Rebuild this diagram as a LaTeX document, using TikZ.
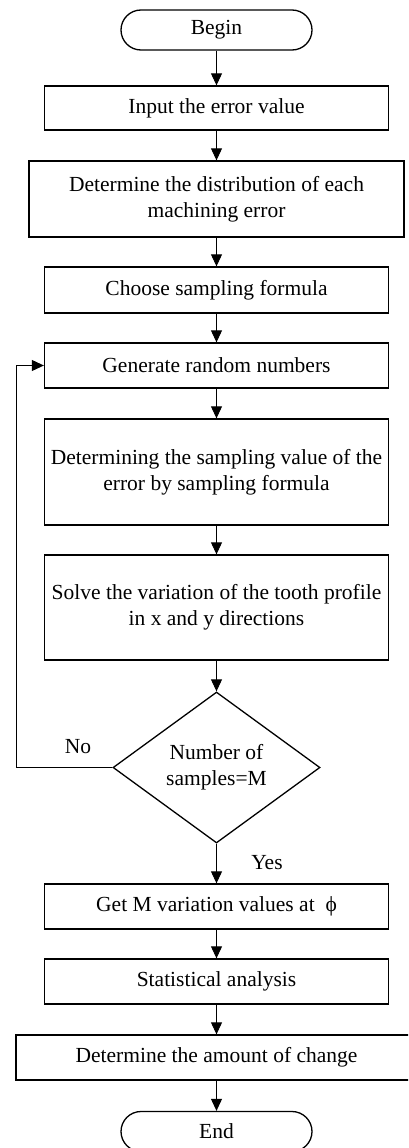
\documentclass[tikz,border=0pt]{standalone}
\usepackage{fontspec}
\setmainfont{Liberation Serif}
\usetikzlibrary{arrows.meta,shapes.geometric}
\tikzset{
  txt/.style={font=\fontsize{21.5}{26}\selectfont},
  box/.style={draw, line width=1.3pt, minimum width=344pt, inner sep=0pt, align=center, txt},
  term/.style={draw, line width=1.3pt, rounded corners=20pt, minimum width=191pt, minimum height=40pt, inner sep=0pt, txt},
  dec/.style={draw, line width=1.3pt, diamond, minimum width=207pt, minimum height=151pt, inner sep=0pt, align=center, txt},
  conn/.style={line width=0.9pt, -{Triangle[length=12pt,width=11pt]}},
  lbl/.style={txt}
}
\begin{document}
\begin{tikzpicture}[x=1pt,y=-1pt]
\useasboundingbox (0,0) rectangle (408,1148);
\clip (0,0) rectangle (408,1148);
\node[term] (begin) at (216.5,30) {Begin};
\node[box, minimum height=44pt] (input) at (216.5,108) {Input the error value};
\node[box, minimum width=375pt, minimum height=76pt] (distr) at (216.5,199) {Determine the distribution of each\\machining error};
\node[box, minimum height=46pt] (choose) at (216.5,290) {Choose sampling formula};
\node[box, minimum height=45pt] (gen) at (216.5,365.5) {Generate random numbers};
\node[box, minimum height=106pt] (det) at (216.5,472) {Determining the sampling value of the\\error by sampling formula};
\node[box, minimum height=105pt] (solve) at (216.5,607.5) {Solve the variation of the tooth profile\\in x and y directions};
\node[dec] (num) at (216.5,767.5) {Number of\\samples=M};
\node[box, minimum height=45pt] (getm) at (216.5,906.5) {Get M variation values at~~ϕ};
\node[box, minimum height=45pt] (stat) at (216.5,981.5) {Statistical analysis};
\node[box, minimum width=401pt, minimum height=45pt] (amount) at (216.5,1057.5) {Determine the amount of change};
\node[term] (end) at (216.5,1131.5) {End};
\coordinate (loopb) at (16,767.5);
\coordinate (loopt) at (16,365.5);
\draw[conn] (begin) -- (input);
\draw[conn] (input) -- (distr);
\draw[conn] (distr) -- (choose);
\draw[conn] (choose) -- (gen);
\draw[conn] (gen) -- (det);
\draw[conn] (det) -- (solve);
\draw[conn] (solve) -- (num);
\draw[conn] (num) -- (getm);
\draw[conn] (getm) -- (stat);
\draw[conn] (stat) -- (amount);
\draw[conn] (amount) -- (end);
\draw[conn] (num.west) -- (loopb) -- (loopt) -- (gen.west);
\node[lbl] (no) at (78,747) {No};
\node[lbl] (yes) at (267,863) {Yes};
\end{tikzpicture}
\end{document}
